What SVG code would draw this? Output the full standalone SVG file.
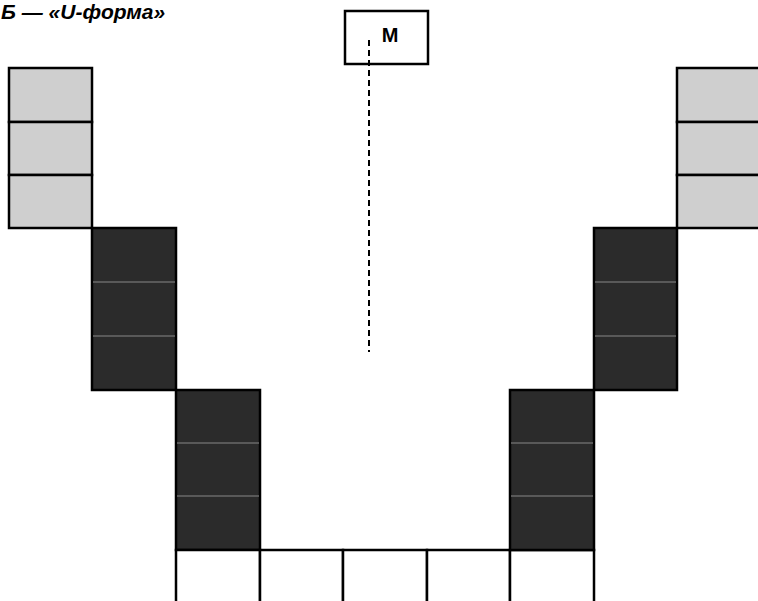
<svg xmlns="http://www.w3.org/2000/svg" width="758" height="601" viewBox="0 0 758 601">
<style>
.light{fill:#cfcfcf;stroke:#000;stroke-width:2.5}
.dark{fill:#2b2b2b;stroke:#000;stroke-width:2.5}
.sep{stroke:#6a6a6a;stroke-width:1.5}
.cell{fill:#fff;stroke:#000;stroke-width:2.5}
.t{font-family:"Liberation Sans",Arial,sans-serif;font-weight:bold}
</style>
<rect width="758" height="601" fill="#fff"/>
<text class="t" x="1" y="19" font-size="21" font-style="italic">Б — «U-форма»</text>
<g id="left-light">
<rect class="light" x="9" y="68" width="83" height="54"/>
<rect class="light" x="9" y="122" width="83" height="53"/>
<rect class="light" x="9" y="175" width="83" height="53"/>
</g>
<g id="left-dark-upper">
<rect class="dark" x="92" y="228" width="84" height="162"/>
<line class="sep" x1="93" y1="282" x2="175" y2="282"/>
<line class="sep" x1="93" y1="336" x2="175" y2="336"/>
</g>
<g id="left-dark-lower">
<rect class="dark" x="176" y="390" width="84" height="160"/>
<line class="sep" x1="177" y1="443" x2="259" y2="443"/>
<line class="sep" x1="177" y1="496" x2="259" y2="496"/>
</g>
<g id="bottom-row">
<rect class="cell" x="176" y="550" width="84" height="60"/>
<rect class="cell" x="260" y="550" width="83" height="60"/>
<rect class="cell" x="343" y="550" width="84" height="60"/>
<rect class="cell" x="427" y="550" width="83" height="60"/>
<rect class="cell" x="510" y="550" width="84" height="60"/>
</g>
<g id="right-dark-lower">
<rect class="dark" x="510" y="390" width="84" height="160"/>
<line class="sep" x1="511" y1="443" x2="593" y2="443"/>
<line class="sep" x1="511" y1="496" x2="593" y2="496"/>
</g>
<g id="right-dark-upper">
<rect class="dark" x="594" y="228" width="83" height="162"/>
<line class="sep" x1="595" y1="282" x2="676" y2="282"/>
<line class="sep" x1="595" y1="336" x2="676" y2="336"/>
</g>
<g id="right-light">
<rect class="light" x="677" y="68" width="90" height="54"/>
<rect class="light" x="677" y="122" width="90" height="53"/>
<rect class="light" x="677" y="175" width="90" height="53"/>
</g>
<g id="M">
<rect x="345" y="11" width="83" height="53" fill="#fff" stroke="#000" stroke-width="2.5"/>
<text class="t" x="390" y="42" font-size="20" text-anchor="middle">M</text>
</g>
<g id="connectors">
<line x1="369" y1="40" x2="369" y2="352" stroke="#000" stroke-width="2" stroke-dasharray="6,4"/>
</g>
</svg>
